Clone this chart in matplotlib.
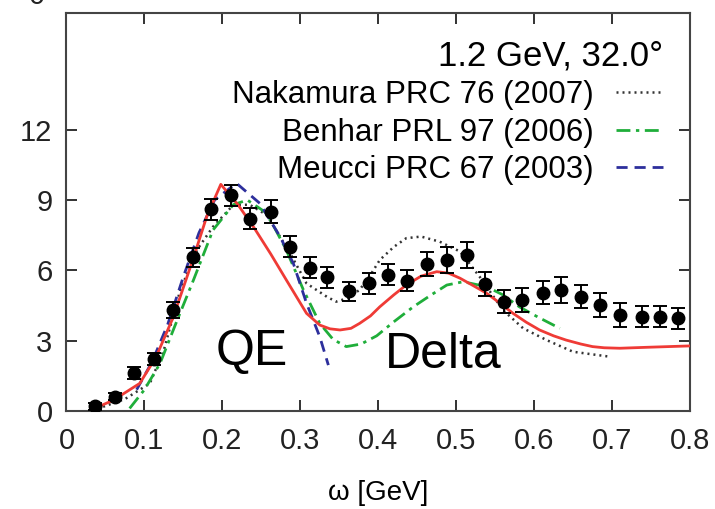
import numpy as np
import matplotlib
matplotlib.use("Agg")
import matplotlib.pyplot as plt

plt.rcParams["font.family"] = ["Liberation Sans", "DejaVu Sans"]

# measured data points (omega [GeV], cross section, error)
omega_data = [0.037, 0.062, 0.087, 0.112, 0.137, 0.162, 0.186, 0.211, 0.235,
              0.262, 0.287, 0.313, 0.334, 0.363, 0.388, 0.413, 0.437, 0.463,
              0.488, 0.514, 0.537, 0.561, 0.585, 0.611, 0.635, 0.660, 0.684,
              0.710, 0.738, 0.762, 0.785]
xs_data = [0.2, 0.6, 1.6, 2.2, 4.3, 6.55, 8.6, 9.2, 8.2,
           8.5, 7.0, 6.1, 5.7, 5.1, 5.45, 5.8, 5.55, 6.27,
           6.44, 6.65, 5.41, 4.66, 4.73, 5.04, 5.16, 4.87, 4.52,
           4.09, 4.02, 4.02, 3.95]
xs_err = [0.15, 0.15, 0.25, 0.25, 0.35, 0.4, 0.45, 0.45, 0.45,
          0.5, 0.45, 0.45, 0.45, 0.4, 0.45, 0.45, 0.45, 0.5,
          0.55, 0.55, 0.5, 0.5, 0.5, 0.5, 0.55, 0.5, 0.5,
          0.5, 0.45, 0.45, 0.45]

# this work (red solid)
omega_red = [0.036, 0.06, 0.094, 0.115, 0.137, 0.162, 0.18, 0.198, 0.22, 0.241,
             0.262, 0.282, 0.308, 0.325, 0.338, 0.351, 0.365, 0.376, 0.39, 0.402,
             0.42, 0.436, 0.455, 0.475, 0.49, 0.505, 0.52, 0.539, 0.556, 0.573,
             0.59, 0.607, 0.625, 0.641, 0.66, 0.675, 0.69, 0.71, 0.744, 0.8]
xs_red = [0.1, 0.45, 1.17, 2.3, 4.0, 6.44, 8.3, 9.67, 8.8, 7.8,
          6.7, 5.59, 4.16, 3.66, 3.5, 3.45, 3.52, 3.73, 4.05, 4.44,
          4.95, 5.37, 5.75, 5.94, 5.88, 5.66, 5.38, 5.02, 4.6, 4.16,
          3.78, 3.45, 3.2, 3.02, 2.85, 2.74, 2.69, 2.67, 2.71, 2.77]

# Nakamura PRC 76 (2007)
omega_nak = [0.047, 0.075, 0.107, 0.125, 0.146, 0.168, 0.188, 0.214, 0.235,
             0.257, 0.287, 0.308, 0.334, 0.346, 0.36, 0.376, 0.39, 0.402, 0.42,
             0.436, 0.455, 0.479, 0.505, 0.53, 0.56, 0.586, 0.616, 0.65, 0.697]
xs_nak = [0.17, 0.5, 1.17, 2.6, 5.16, 6.9, 7.86, 8.79, 8.8,
          8.36, 6.72, 5.44, 4.87, 4.66, 4.8, 5.16, 5.8, 6.44, 7.0,
          7.37, 7.44, 7.22, 6.8, 5.73, 4.3, 3.52, 3.02, 2.52, 2.31]

# Benhar PRL 97 (2006)
omega_ben = [0.081, 0.1, 0.12, 0.14, 0.163, 0.188, 0.214, 0.232, 0.257,
             0.282, 0.304, 0.325, 0.342, 0.359, 0.378, 0.398, 0.42, 0.445,
             0.468, 0.488, 0.509, 0.539, 0.56, 0.581, 0.605, 0.633]
xs_ben = [0.1, 0.9, 2.02, 3.7, 5.59, 7.72, 8.8, 9.0, 8.44,
          6.87, 5.16, 3.73, 3.05, 2.74, 2.85, 3.2, 3.8, 4.44,
          4.95, 5.37, 5.51, 5.3, 4.95, 4.44, 4.0, 3.52]

# Meucci PRC 67 (2003)
omega_meu = [0.09, 0.11, 0.13, 0.15, 0.17, 0.19, 0.218, 0.248, 0.274,
             0.291, 0.308, 0.325, 0.336]
xs_meu = [0.9, 2.1, 3.7, 5.73, 7.6, 9.0, 9.72, 8.86, 7.44,
          6.3, 4.59, 3.16, 1.95]

x_ticks = [0, 0.1, 0.2, 0.3, 0.4, 0.5, 0.6, 0.7, 0.8]
x_tick_labels = ["0", "0.1", "0.2", "0.3", "0.4", "0.5", "0.6", "0.7", "0.8"]
y_ticks = [0, 3, 6, 9, 12]

fig = plt.figure(figsize=(7.15, 5.09), dpi=100)
ax = fig.add_axes([0.093, 0.193, 0.872, 0.782])

ax.plot(omega_red, xs_red, color="#ef3b36", lw=2.0, zorder=3)
ax.plot(omega_nak, xs_nak, color="#333333", lw=1.8, linestyle=(0, (0.8, 1.6)),
        label="Nakamura PRC 76 (2007)", zorder=2)
ax.plot(omega_ben, xs_ben, color="#1fae3a", lw=2.0, linestyle=(0, (5, 2, 1.2, 2)),
        label="Benhar PRL 97 (2006)", zorder=2)
ax.plot(omega_meu, xs_meu, color="#2d2f9c", lw=2.0, linestyle=(0, (4, 2.5)),
        label="Meucci PRC 67 (2003)", zorder=2)

ax.errorbar(omega_data, xs_data, yerr=xs_err, fmt="o", color="black",
            markersize=9, elinewidth=1.4, capsize=5, capthick=1.4, zorder=4)

ax.text(0.238, 2.5, "QE", fontsize=36, ha="center", va="center")
ax.text(0.483, 2.4, "Delta", fontsize=36, ha="center", va="center")

ax.set_xlim(0, 0.8)
ax.set_ylim(0, 17)
ax.set_xticks(x_ticks)
ax.set_xticklabels(x_tick_labels)
ax.set_yticks(y_ticks)
ax.tick_params(direction="in", length=8, width=1.3, top=True, right=True,
               labelsize=21, colors="#222222", pad=10)
ax.tick_params(axis="x", pad=12)
for sp in ax.spines.values():
    sp.set_linewidth(1.5)
    sp.set_color("#444444")

ax.set_xlabel("ω [GeV]", fontsize=20, labelpad=18)

leg = ax.legend(title="1.2 GeV, 32.0°", loc="upper right", frameon=False,
                markerfirst=False, fontsize=22.5, title_fontsize=25,
                handlelength=1.5, handletextpad=0.7, labelspacing=0.24,
                borderaxespad=0.47, borderpad=0.4, alignment="right")

# top label of the panel above, cut off by the figure edge
fig.text(0.052, 1.008, "0", fontsize=21, ha="center", va="center", color="#222222")

fig.savefig("out.png", dpi=100)
